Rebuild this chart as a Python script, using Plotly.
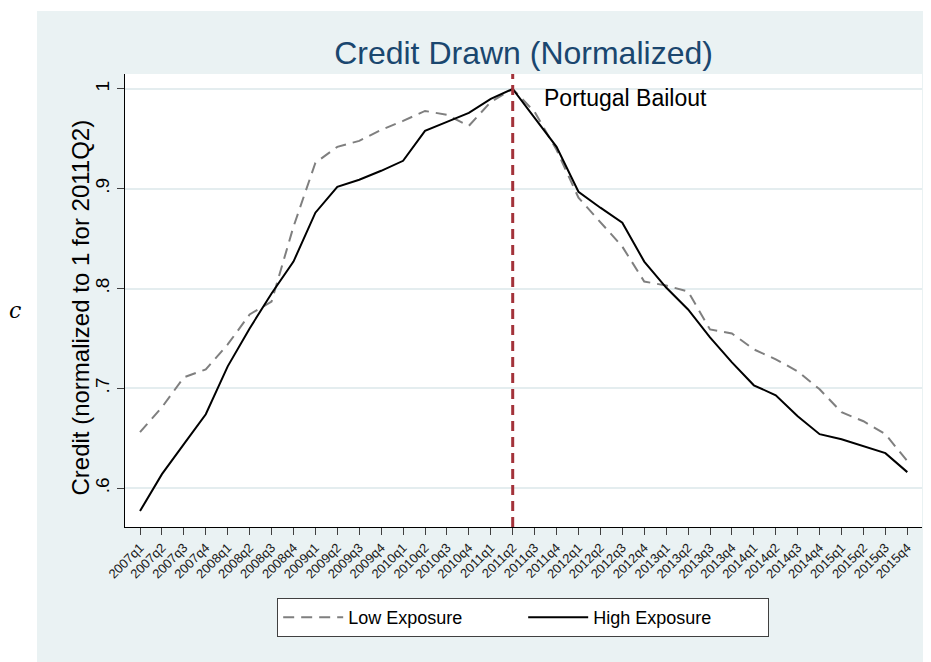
import plotly.graph_objects as go

quarters = ["2007q1", "2007q2", "2007q3", "2007q4", "2008q1", "2008q2", "2008q3", "2008q4",
            "2009q1", "2009q2", "2009q3", "2009q4", "2010q1", "2010q2", "2010q3", "2010q4",
            "2011q1", "2011q2", "2011q3", "2011q4", "2012q1", "2012q2", "2012q3", "2012q4",
            "2013q1", "2013q2", "2013q3", "2013q4", "2014q1", "2014q2", "2014q3", "2014q4",
            "2015q1", "2015q2", "2015q3", "2015q4"]

low_exposure = [0.656, 0.681, 0.711, 0.719, 0.744, 0.774, 0.787, 0.862,
                0.926, 0.942, 0.948, 0.959, 0.968, 0.978, 0.974, 0.963,
                0.987, 1.000, 0.977, 0.939, 0.891, 0.867, 0.842, 0.807,
                0.803, 0.797, 0.759, 0.755, 0.739, 0.729, 0.717, 0.699,
                0.676, 0.667, 0.654, 0.627]

high_exposure = [0.577, 0.614, 0.644, 0.674, 0.722, 0.760, 0.795, 0.827,
                 0.876, 0.902, 0.909, 0.918, 0.928, 0.958, 0.967, 0.976,
                 0.990, 1.000, 0.971, 0.942, 0.897, 0.881, 0.866, 0.827,
                 0.801, 0.779, 0.751, 0.726, 0.703, 0.693, 0.672, 0.654,
                 0.649, 0.642, 0.635, 0.616]

y_tick_values = [0.6, 0.7, 0.8, 0.9, 1.0]
y_tick_labels = [".6", ".7", ".8", ".9", "1"]
event_quarter = "2011q2"
event_label = "Portugal Bailout"
y_title = "Credit (normalized to 1 for 2011Q2)"

FONT = "Liberation Sans, Arial, sans-serif"
BG = "#EAF2F3"
GRID = "#E4EDEF"

fig = go.Figure()
fig.add_trace(go.Scatter(
    x=quarters, y=low_exposure, mode="lines", name="Low Exposure",
    line=dict(color="#7F7F7F", width=2, dash="11px,7px"),
))
fig.add_trace(go.Scatter(
    x=quarters, y=high_exposure, mode="lines", name="High Exposure",
    line=dict(color="#000000", width=2),
))

# event line
fig.add_shape(type="line", xref="x", yref="paper", x0=event_quarter, x1=event_quarter,
              y0=0, y1=1, line=dict(color="#A3323A", width=3, dash="10px,6px"), layer="above")
fig.add_annotation(x=event_quarter, y=0.991, xref="x", yref="y", text=event_label,
                   showarrow=False, xanchor="left", yanchor="middle", xshift=29,
                   font=dict(family=FONT, size=23, color="#000000"))

# white strips outside the graph region
fig.add_shape(type="rect", xref="paper", yref="paper", x0=-0.3, x1=-0.1104, y0=-0.5, y1=1.4,
              fillcolor="white", line=dict(width=0), layer="below")
fig.add_shape(type="rect", xref="paper", yref="paper", x0=-0.3, x1=1.2, y0=1.139, y1=1.4,
              fillcolor="white", line=dict(width=0), layer="below")

# panel letter
fig.add_annotation(x=-0.138, y=0.477, xref="paper", yref="paper", text="<i>c</i>",
                   showarrow=False, xanchor="center", yanchor="middle",
                   font=dict(family="DejaVu Serif, Liberation Serif, serif", size=22, color="#000000"))

# y-axis title
fig.add_annotation(x=-0.0552, y=0.4845, xref="paper", yref="paper", text=y_title,
                   showarrow=False, textangle=-90, xanchor="center", yanchor="middle",
                   font=dict(family=FONT, size=24, color="#000000"))

fig.update_layout(
    width=923, height=654,
    margin=dict(l=117, r=9, t=66, b=135),
    paper_bgcolor=BG, plot_bgcolor="white",
    font=dict(family=FONT, color="#000000"),
    title=dict(text="Credit Drawn (Normalized)", x=0.5, xref="paper", xanchor="center",
               y=0.931, yref="container", yanchor="middle",
               font=dict(family=FONT, size=32, color="#1A476F")),
    showlegend=True,
    legend=dict(orientation="h", x=0.4996, xanchor="center", y=-0.157, yanchor="top",
                bgcolor="white", bordercolor="#404040", borderwidth=1,
                font=dict(family=FONT, size=18, color="#000000"),
                entrywidth=170, entrywidthmode="pixels", itemwidth=60,
                traceorder="normal"),
    hovermode=False,
)

fig.update_xaxes(
    type="category", categoryorder="array", categoryarray=quarters,
    range=[-0.685, 35.67],
    showgrid=False, zeroline=False,
    showline=True, linecolor="#000000", linewidth=1, mirror=False,
    ticks="outside", ticklen=7, tickcolor="#404040", tickwidth=1,
    tickangle=-45, tickfont=dict(family=FONT, size=13, color="#1a1a1a"),
    automargin=False,
)
fig.update_yaxes(
    range=[0.561, 1.015],
    tickvals=y_tick_values, ticktext=y_tick_labels,
    showgrid=True, gridcolor=GRID, gridwidth=1.5, zeroline=False,
    showline=True, linecolor="#000000", linewidth=1,
    ticks="outside", ticklen=7, tickcolor="#404040", tickwidth=1,
    tickangle=-90, tickfont=dict(family=FONT, size=19, color="#000000"),
    automargin=False,
)

fig.write_html("out.html")
